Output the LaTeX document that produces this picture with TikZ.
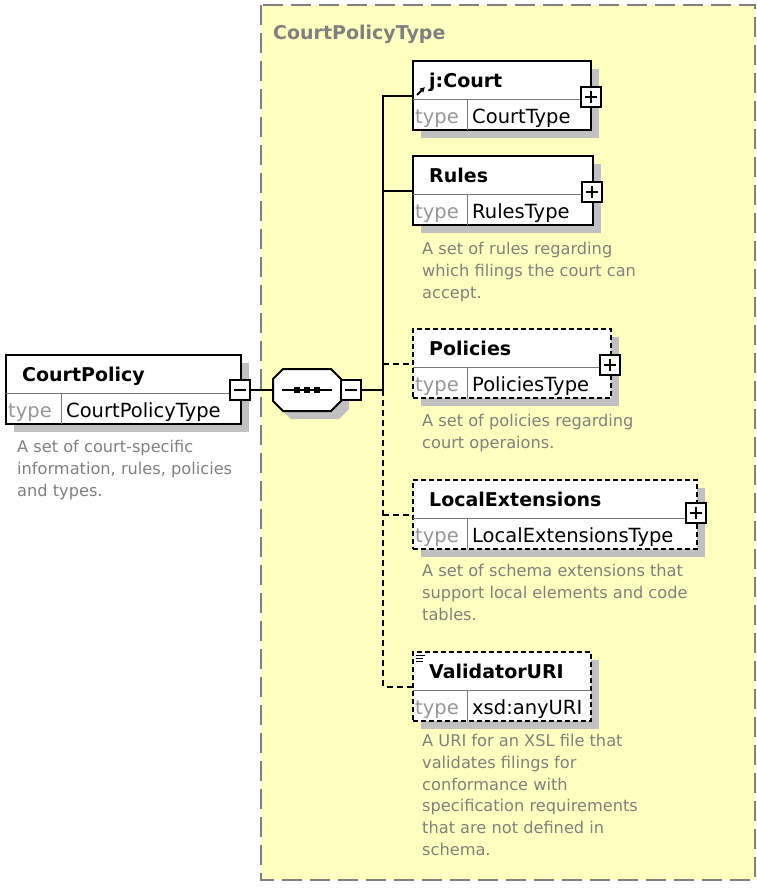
\documentclass[tikz,border=0pt]{standalone}
\usepackage{fontspec}
\setmainfont{DejaVu Sans}
\usetikzlibrary{arrows.meta}
\definecolor{bgyellow}{RGB}{255,255,192}
\definecolor{framegray}{RGB}{128,128,128}
\definecolor{shadowgray}{RGB}{192,192,192}
\definecolor{descgray}{RGB}{128,128,128}
\definecolor{typegray}{RGB}{150,150,150}
\definecolor{divgray}{RGB}{120,120,120}

% #1 id, #2 left, #3 top, #4 right, #5 box style, #6 name, #7 type, #8 type divider offset
\newcommand{\xelem}[8]{%
  \fill[shadowgray] ({#2+8},{#3+8}) rectangle ({#4+8},{#3+77});
  \node[#5, minimum width={#4-#2}, minimum height=69] (#1) at (#2,#3) {};
  \draw[divline] (#2,{#3+38}) -- (#4,{#3+38});
  \draw[divline] ({#2+#8},{#3+38}) -- ({#2+#8},{#3+69});
  \node[namelbl] (#1-name) at ({#2+16},{#3+26}) {#6};
  \node[typelbl] (#1-tl) at ({#2+2},{#3+62}) {type};
  \node[vallbl] (#1-tv) at ({#2+#8+5},{#3+62}) {#7};
}
% plus box: #1 id, #2 x, #3 y
\newcommand{\plusbox}[3]{%
  \node[pmbox] (#1) at (#2,#3) {};
  \draw[line width=1.5pt] ([xshift=-6pt]#1.center) -- ([xshift=6pt]#1.center)
        ([yshift=-6pt]#1.center) -- ([yshift=6pt]#1.center);
}
\newcommand{\minusbox}[3]{%
  \node[pmbox] (#1) at (#2,#3) {};
  \draw[line width=1.5pt] ([xshift=-6pt]#1.center) -- ([xshift=6pt]#1.center);
}

\begin{document}
\begin{tikzpicture}[x=1pt,y=-1pt,
  elem/.style={draw=black, line width=2pt, fill=white, rectangle, inner sep=0pt, outer sep=0pt, anchor=north west},
  optelem/.style={elem, dash pattern=on 5pt off 3pt},
  divline/.style={draw=divgray, line width=1pt},
  namelbl/.style={font=\fontsize{19}{22}\selectfont\bfseries, anchor=base west, inner sep=0pt},
  typelbl/.style={font=\fontsize{19.5}{22}\selectfont, anchor=base west, inner sep=0pt, text=typegray},
  vallbl/.style={font=\fontsize{19.5}{22}\selectfont, anchor=base west, inner sep=0pt},
  desc/.style={font=\fontsize{16.2}{21.8}\selectfont, text=descgray, align=left, anchor=north west, inner sep=0pt},
  conn/.style={line width=2pt},
  optconn/.style={line width=2pt, dash pattern=on 6pt off 4pt},
  pmbox/.style={draw=black, line width=1.5pt, fill=white, minimum width=20pt, minimum height=20pt, inner sep=0pt, outer sep=0pt},
]
\useasboundingbox (0,0) rectangle (757,889);
\fill[white] (0,0) rectangle (757,889);

% complex type frame
\draw[fill=bgyellow, draw=framegray, line width=2pt, dash pattern=on 20pt off 8pt] (261,5) rectangle (755,880);
\node[anchor=base west, inner sep=0pt, font=\fontsize{19}{22}\selectfont\bfseries, text=framegray] (ctype) at (273,39) {CourtPolicyType};

% root element
\xelem{cp}{6}{355}{241}{elem}{CourtPolicy}{CourtPolicyType}{55}
\minusbox{cp-pm}{240}{390}
\node[desc] (cp-d) at (17,440) {A set of court-specific\\information, rules, policies\\and types.};

% sequence compositor
\node[inner sep=0pt, outer sep=0pt, minimum width=68pt, minimum height=42pt] (seq) at (307,390) {};
\fill[shadowgray, shift={(315,398)}] (-24,-21) -- (24,-21) -- (34,-11) -- (34,11) -- (24,21) -- (-24,21) -- (-34,11) -- (-34,-11) -- cycle;
\draw[fill=white, line width=2pt, shift={(307,390)}] (-24,-21) -- (24,-21) -- (34,-11) -- (34,11) -- (24,21) -- (-24,21) -- (-34,11) -- (-34,-11) -- cycle;
\draw[line width=1.5pt] ([xshift=-25pt]seq.center) -- ([xshift=25pt]seq.center);
\foreach \dx in {-10,0,10} {
  \fill ([xshift=\dx pt]seq.center) ++(-3,-3) rectangle ++(6,6);
}
\minusbox{seq-pm}{351}{390}
\draw[conn] (cp-pm.east) -- (seq.west);

% child elements
\xelem{court}{413}{61}{591}{elem}{j:Court}{CourtType}{54}
\plusbox{court-pm}{591}{97}
\draw[-{Latex[length=5pt,width=6pt]}, line width=2pt] (417,95) -- (425,87);

\xelem{rules}{413}{156}{593}{elem}{Rules}{RulesType}{54}
\plusbox{rules-pm}{592}{192}
\node[desc] (rules-d) at (422,242) {A set of rules regarding\\which filings the court can\\accept.};

\xelem{pol}{413}{329}{611}{optelem}{Policies}{PoliciesType}{54}
\plusbox{pol-pm}{610}{365}
\node[desc] (pol-d) at (422,414) {A set of policies regarding\\court operaions.};

\xelem{loc}{413}{480}{697}{optelem}{LocalExtensions}{LocalExtensionsType}{54}
\plusbox{loc-pm}{696}{513}
\node[desc] (loc-d) at (422,564) {A set of schema extensions that\\support local elements and code\\tables.};

\xelem{val}{413}{652}{591}{optelem}{ValidatorURI}{xsd:anyURI}{54}
\draw[line width=1pt] (416,655) -- (425,655) (416,658) -- (423,658) (416,661) -- (423,661);
\node[desc] (val-d) at (422,734) {A URI for an XSL file that\\validates filings for\\conformance with\\specification requirements\\that are not defined in\\schema.};

% connectors
\coordinate (jn) at (383,390);
\draw[conn] (seq-pm.east) -- (jn);
\draw[conn] (jn) |- (court.west);
\draw[conn] (jn |- rules.west) -- (rules.west);
\draw[optconn] (jn |- pol.west) -- (pol.west);
\draw[optconn] (jn) |- (val.west);
\draw[optconn] (jn |- loc.west) -- (loc.west);
\end{tikzpicture}
\end{document}
